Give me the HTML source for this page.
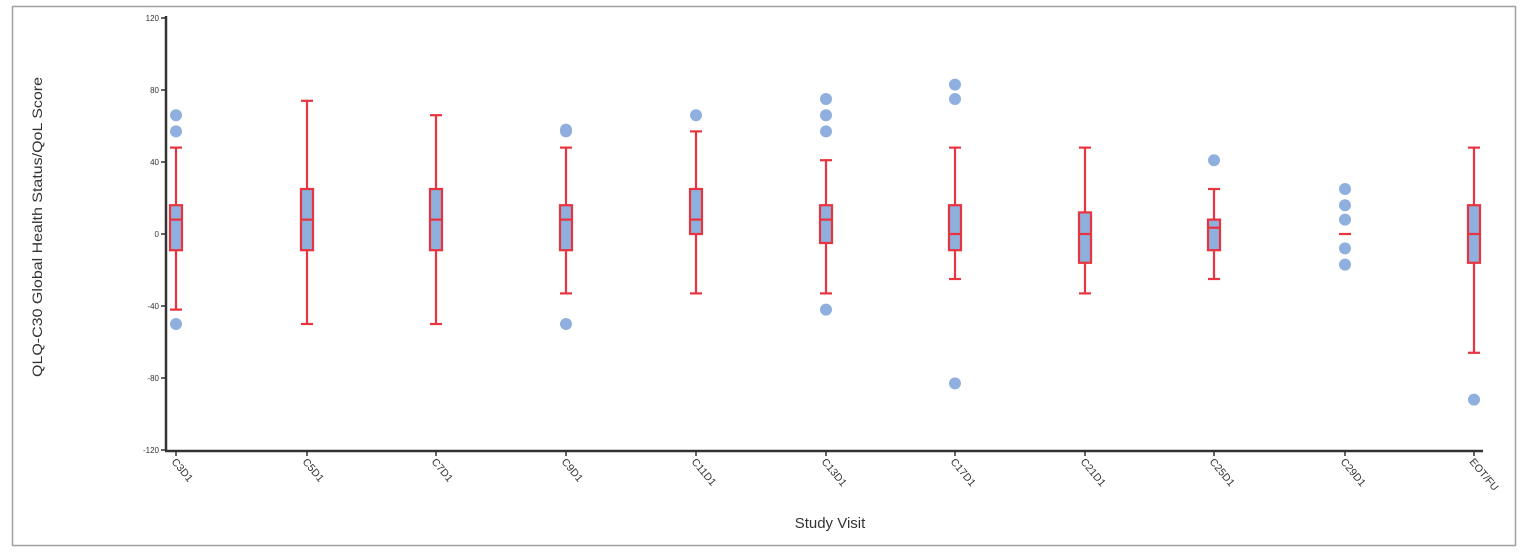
<!DOCTYPE html>
<html><head><meta charset="utf-8"><style>
html,body{margin:0;padding:0;background:#fff;}
svg{display:block;}
text{font-family:"Liberation Sans",sans-serif;fill:#333;}
</style></head><body>
<svg width="1530" height="552" viewBox="0 0 1530 552" xmlns="http://www.w3.org/2000/svg">
<rect x="12.5" y="6.5" width="1503" height="539" fill="#fff" stroke="#a0a0a0" stroke-width="1.5"/>
<g id="ticks" stroke="#333" stroke-width="1.5">
<line x1="166" y1="16" x2="166" y2="451" stroke-width="2.5"/>
<line x1="165" y1="451" x2="1483" y2="451" stroke-width="2.5"/>
<line x1="161" y1="18" x2="166" y2="18"/><line x1="161" y1="90" x2="166" y2="90"/>
<line x1="161" y1="162" x2="166" y2="162"/><line x1="161" y1="234" x2="166" y2="234"/>
<line x1="161" y1="306" x2="166" y2="306"/><line x1="161" y1="378" x2="166" y2="378"/>
<line x1="161" y1="450" x2="166" y2="450"/>
</g>
<g font-size="8" text-anchor="end">
<text x="159" y="21">120</text><text x="159" y="93">80</text><text x="159" y="165">40</text>
<text x="159" y="237">0</text><text x="159" y="309">-40</text><text x="159" y="381">-80</text><text x="159" y="453">-120</text>
</g>
<text transform="translate(42,227) rotate(-90)" font-size="14" text-anchor="middle" textLength="300" lengthAdjust="spacingAndGlyphs">QLQ-C30 Global Health Status/QoL Score</text>
<text x="830" y="528" font-size="15" text-anchor="middle">Study Visit</text>
<g id="plot"></g>
</svg>
<script>
const Y=v=>234-1.8*v;
const data=[
["C3D1",176,48,-42,16,-9,8,[66,57,-50]],
["C5D1",307,74,-50,25,-9,8,[]],
["C7D1",436,66,-50,25,-9,8,[]],
["C9D1",566,48,-33,16,-9,8,[58,57,-50]],
["C11D1",696,57,-33,25,0,8,[66]],
["C13D1",826,41,-33,16,-5,8,[75,66,57,-42]],
["C17D1",955,48,-25,16,-9,0,[83,75,-83]],
["C21D1",1085,48,-33,12,-16,0,[]],
["C25D1",1214,25,-25,8,-9,3.5,[41]],
["C29D1",1345,null,null,null,null,0,[25,16,8,-8,-17]],
["EOT/FU",1474,48,-66,16,-16,0,[-92]]
];
let s="";
const R='stroke="#e8343f" stroke-width="2.2" fill="none"';
for(const [n,x,wh,wl,q3,q1,m,o] of data){
 s+=`<line x1="${x}" y1="451" x2="${x}" y2="456" stroke="#333" stroke-width="1.5"/>`;
 s+=`<text transform="translate(${x-5},${462}) rotate(50)" font-size="10.5">${n}</text>`;
 for(const v of o) s+=`<circle cx="${x}" cy="${Y(v)}" r="6" fill="#8fb0de"/>`;
 if(wh!==null){
  s+=`<line x1="${x}" y1="${Y(wh)}" x2="${x}" y2="${Y(wl)}" ${R}/>`;
  s+=`<line x1="${x-6}" y1="${Y(wh)}" x2="${x+6}" y2="${Y(wh)}" ${R}/>`;
  s+=`<line x1="${x-6}" y1="${Y(wl)}" x2="${x+6}" y2="${Y(wl)}" ${R}/>`;
  s+=`<rect x="${x-6}" y="${Y(q3)}" width="12" height="${Y(q1)-Y(q3)}" fill="#8eb0dc" stroke="#e8343f" stroke-width="2.2"/>`;
 }
 s+=`<line x1="${x-6}" y1="${Y(m)}" x2="${x+6}" y2="${Y(m)}" ${R}/>`;
}
document.getElementById("plot").innerHTML=s;
</script>
</body></html>
